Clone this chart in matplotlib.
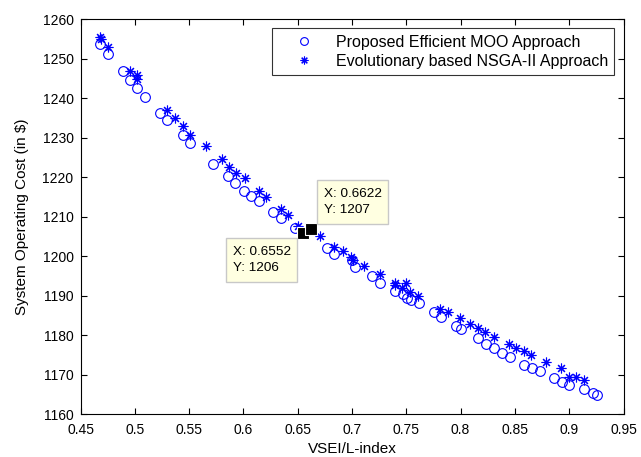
import matplotlib
matplotlib.use("Agg")
import matplotlib.pyplot as plt
from matplotlib.patches import Rectangle

plt.rcParams["font.family"] = ["Liberation Sans", "DejaVu Sans"]

# Proposed Efficient MOO Approach (circles)
moo_x = [0.468, 0.4753, 0.4887, 0.4955, 0.5019, 0.5097, 0.5229, 0.5299, 0.544, 0.5506,
         0.5723, 0.586, 0.5927, 0.6003, 0.6074, 0.614, 0.6272, 0.6348, 0.6479, 0.6769,
         0.6836, 0.7004, 0.7025, 0.7187, 0.7257, 0.7394, 0.7471, 0.7507, 0.7547, 0.7613,
         0.7751, 0.7818, 0.7956, 0.8004, 0.8157, 0.823, 0.8309, 0.8382, 0.8452, 0.8583,
         0.8656, 0.8727, 0.8858, 0.8935, 0.9001, 0.9132, 0.9215, 0.926]
moo_y = [1253.7, 1251.3, 1246.9, 1244.6, 1242.7, 1240.4, 1236.3, 1234.6, 1230.7, 1228.7,
         1223.4, 1220.4, 1218.6, 1216.6, 1215.3, 1214.1, 1211.3, 1209.8, 1207.1, 1202.2,
         1200.5, 1199.0, 1197.3, 1195.0, 1193.3, 1191.2, 1190.4, 1189.5, 1188.9, 1188.2,
         1186.0, 1184.6, 1182.3, 1181.7, 1179.2, 1177.8, 1176.7, 1175.6, 1174.5, 1172.6,
         1171.8, 1170.9, 1169.2, 1168.2, 1167.5, 1166.3, 1165.3, 1165.0]

# Evolutionary based NSGA-II Approach (asterisks)
nsga_x = [0.468, 0.4685, 0.4753, 0.4955, 0.5019, 0.5024, 0.5299, 0.5372, 0.544, 0.5506,
          0.5659, 0.5799, 0.5866, 0.593, 0.6012, 0.614, 0.6205, 0.6342, 0.6415, 0.6501,
          0.6708, 0.6836, 0.6913, 0.6989, 0.7013, 0.711, 0.7257, 0.7394, 0.74, 0.7462,
          0.7501, 0.7538, 0.7608, 0.7812, 0.7882, 0.7995, 0.8086, 0.8157, 0.8226, 0.8309,
          0.8446, 0.8507, 0.858, 0.8651, 0.8788, 0.8925, 0.8995, 0.9063, 0.9132]
nsga_y = [1255.5, 1255.0, 1253.1, 1246.9, 1246.0, 1245.0, 1237.1, 1234.9, 1233.1, 1230.8,
          1227.8, 1224.6, 1222.7, 1221.2, 1219.8, 1216.6, 1215.1, 1212.1, 1210.5, 1207.7,
          1205.2, 1202.4, 1201.4, 1199.8, 1199.0, 1197.6, 1195.5, 1192.7, 1193.2, 1192.1,
          1193.3, 1191.0, 1190.0, 1186.6, 1185.8, 1184.3, 1182.8, 1181.8, 1180.9, 1179.6,
          1177.8, 1176.9, 1176.0, 1175.0, 1173.3, 1171.6, 1169.5, 1169.5, 1168.6]

# data tips (MATLAB data cursors)
tip_x = [0.6552, 0.6622]
tip_y = [1206, 1207]
tip_text = ["X: 0.6552\nY: 1206", "X: 0.6622\nY: 1207"]
# box top-left corners in data units
tip_box = [(0.584, 1204.7), (0.6675, 1219.3)]

fig = plt.figure(figsize=(6.41, 4.57), dpi=100)
ax = fig.add_axes([0.1256, 0.0934, 0.8471, 0.8644])

ax.plot(moo_x, moo_y, "o", linestyle="none", markersize=7, markerfacecolor="none",
        markeredgecolor="blue", markeredgewidth=0.8, label="Proposed Efficient MOO Approach")
ax.plot(nsga_x, nsga_y, marker=(8, 2, 0), linestyle="none", markersize=7,
        color="blue", markeredgewidth=0.8, label="Evolutionary based NSGA-II Approach")
ax.plot(tip_x, tip_y, "s", linestyle="none", markersize=8, markerfacecolor="black",
        markeredgecolor="white", markeredgewidth=0.8, zorder=5)

ax.set_xlim(0.45, 0.95)
ax.set_ylim(1160, 1260)
ax.set_xticks([0.45, 0.5, 0.55, 0.6, 0.65, 0.7, 0.75, 0.8, 0.85, 0.9, 0.95])
ax.set_xticklabels(["0.45", "0.5", "0.55", "0.6", "0.65", "0.7", "0.75", "0.8", "0.85", "0.9", "0.95"])
ax.set_yticks(range(1160, 1261, 10))
ax.tick_params(direction="in", top=True, right=True, labelsize=10, length=4)
ax.tick_params(axis="x", pad=6)
ax.tick_params(axis="y", pad=5)
ax.set_xlabel("VSEI/L-index", fontsize=11, labelpad=4)
ax.set_ylabel("System Operating Cost (in $)", fontsize=11, labelpad=10)

bw, bh = 0.0655, 11.1
for (bx, by), txt in zip(tip_box, tip_text):
    ax.add_patch(Rectangle((bx, by - bh), bw, bh, facecolor="#ffffe1", edgecolor="#c8c8c8",
                           linewidth=1.0, zorder=6))
    ax.text(bx + 0.0068, by - bh / 2, txt, fontsize=9.7, ha="left", va="center",
            linespacing=1.45, zorder=7)

leg = ax.legend(loc="upper left", bbox_to_anchor=(271.7 / 641, 1 - 28.3 / 457),
                bbox_transform=fig.transFigure, fontsize=11.5, frameon=True,
                fancybox=False, edgecolor="black", borderpad=0.4, handletextpad=0.3,
                borderaxespad=0, handlelength=3.3, labelspacing=0.25, markerscale=0.8)
leg.get_frame().set_linewidth(0.8)

fig.savefig("out.png", dpi=100)
